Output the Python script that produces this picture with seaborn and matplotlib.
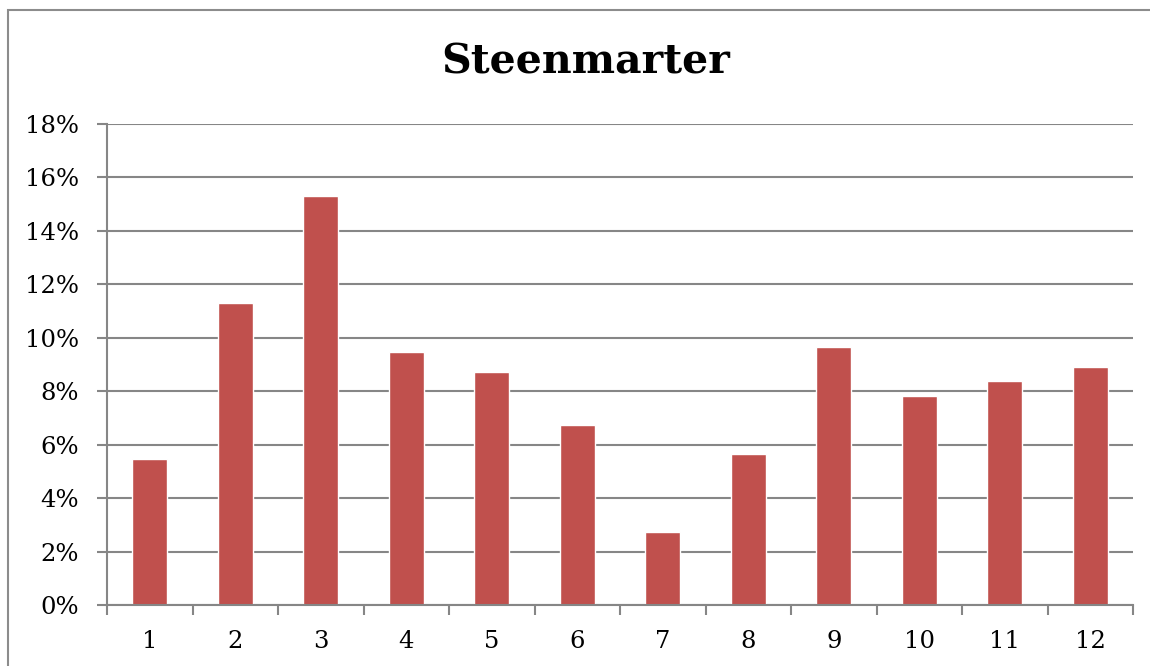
import matplotlib
matplotlib.use("Agg")
import matplotlib.pyplot as plt
import seaborn as sns
import pandas as pd
import numpy as np
from matplotlib.ticker import FixedLocator, PercentFormatter
from matplotlib.patches import Rectangle

months = ["1", "2", "3", "4", "5", "6", "7", "8", "9", "10", "11", "12"]
values = [5.47, 11.3, 15.3, 9.47, 8.72, 6.74, 2.73, 5.65, 9.66, 7.82, 8.38, 8.91]
title = "Steenmarter"
yticks = [0, 2, 4, 6, 8, 10, 12, 14, 16, 18]

df = pd.DataFrame({"month": months, "value": values})

sns.set_theme(style="white")
plt.rcParams["font.family"] = ["DejaVu Serif"]

W, H = 1150, 666
fig = plt.figure(figsize=(W / 100, H / 100), dpi=100)
ax = fig.add_axes([107 / W, 1 - 605 / H, (1133 - 107) / W, (605 - 124) / H])

sns.barplot(data=df, x="month", y="value", color="#C0504D", saturation=1,
            width=0.405, ax=ax, order=months)

ax.set_ylim(0, 18)
ax.set_xlim(-0.5, 11.5)
ax.set_yticks(yticks)
ax.yaxis.set_major_formatter(PercentFormatter(decimals=0))
ax.grid(axis="y", color="#868686", linewidth=1.5)
ax.set_axisbelow(True)
ax.set_xlabel("")
ax.set_ylabel("")

for s in ["top", "right"]:
    ax.spines[s].set_visible(False)
for s in ["left", "bottom"]:
    ax.spines[s].set_color("#868686")
    ax.spines[s].set_linewidth(1.5)

ax.tick_params(axis="y", which="major", direction="out", length=7, width=1.5,
               color="#868686", labelsize=17.5, labelcolor="black", pad=13, left=True)
ax.tick_params(axis="x", which="major", length=0, labelsize=17.5, labelcolor="black", pad=18)
ax.xaxis.set_minor_locator(FixedLocator(np.arange(-0.5, 12, 1)))
ax.tick_params(axis="x", which="minor", direction="out", length=7, width=1.5,
               color="#868686", bottom=True)

fig.text(586 / W, 1 - 62 / H, title, ha="center", va="center",
         fontsize=29.5, fontweight="bold", color="black")

fig.patches.append(Rectangle((8 / W, -0.1), 1.2, 1 - 10 / H + 0.1, transform=fig.transFigure,
                             fill=False, edgecolor="#8c8c8c", linewidth=1.5))

fig.savefig("out.png", dpi=100, facecolor="white")
